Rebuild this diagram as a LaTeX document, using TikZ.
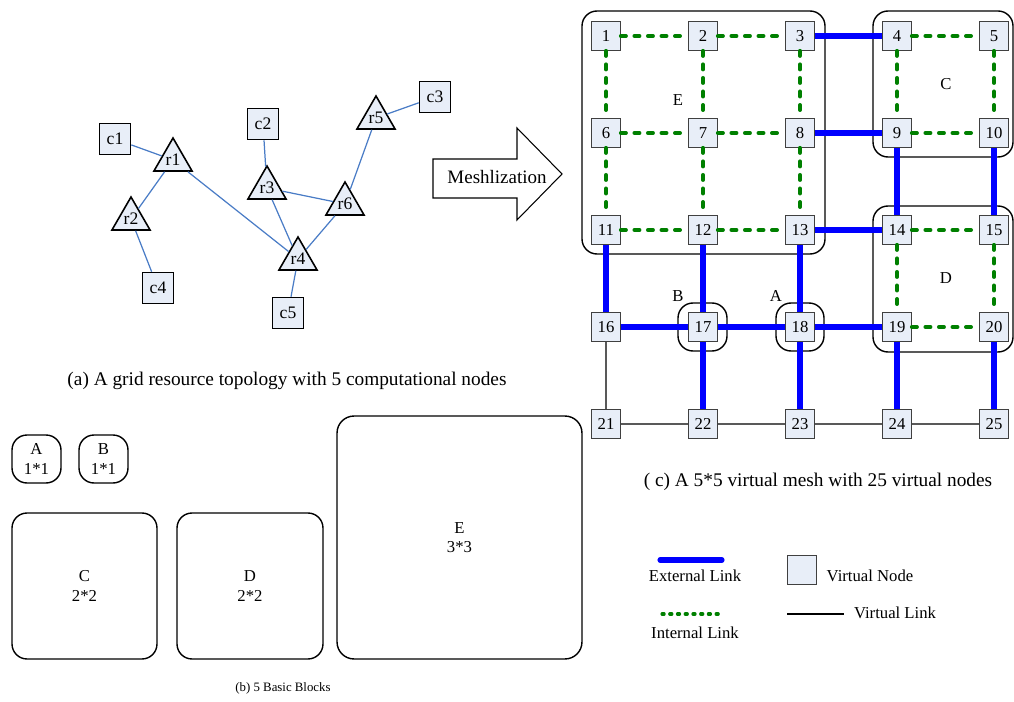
\documentclass[tikz,border=0pt]{standalone}
\usepackage{fontspec}
\setmainfont{Liberation Serif}
\usetikzlibrary{shapes.geometric}
\definecolor{nodefill}{HTML}{E8EEF8}
\definecolor{topoblue}{HTML}{4A7CC6}
\definecolor{intgreen}{HTML}{008000}
\begin{document}
\begin{tikzpicture}[x=0.02cm,y=-0.02cm,
    font=\fontsize{9.5}{11}\selectfont,
    vnode/.style={draw=black!75,fill=nodefill,minimum size=0.58cm,inner sep=0pt},
    cnode/.style={draw,line width=0.9pt,fill=nodefill,minimum size=0.62cm,inner sep=0pt,
      font=\fontsize{10}{12}\selectfont},
    rnode/.style={draw,line width=0.9pt,fill=nodefill,regular polygon,regular polygon sides=3,
      minimum size=0.88cm,inner sep=0pt,font=\fontsize{10}{12}\selectfont},
    topo/.style={draw=topoblue,line width=0.7pt},
    extlink/.style={draw=blue,line width=2.9pt},
    intlink/.style={draw=intgreen,line width=2.2pt,line cap=round,dash pattern=on 2.9pt off 4.8pt},
    vlink/.style={draw=black!65,line width=0.6pt},
    blk/.style={draw,line width=0.8pt,rounded corners=0.3cm},
    bblock/.style={blk,align=center,inner sep=0pt},
    caption/.style={font=\fontsize{11}{13}\selectfont}]
    \useasboundingbox (0,0) rectangle (1014,702);
    % (a) topology
    \node[cnode] (c1) at (115,139) {c1};
    \node[cnode] (c2) at (263,124) {c2};
    \node[cnode] (c3) at (435,97) {c3};
    \node[cnode] (c4) at (158,288) {c4};
    \node[cnode] (c5) at (288,313) {c5};
    \node[rnode] (r1) at (173,160) {r1};
    \node[rnode] (r2) at (131,219) {r2};
    \node[rnode] (r3) at (267,188) {r3};
    \node[rnode] (r4) at (298,259) {r4};
    \node[rnode] (r5) at (376,118) {r5};
    \node[rnode] (r6) at (345,204) {r6};
    \foreach \a/\b in {c1/r1,r1/r2,r1/r4,r2/c4,c2/r3,r3/r6,r3/r4,r4/r6,r4/c5,r6/r5,r5/c3}
    \draw[topo] (\a) -- (\b);
    \node[caption] (capa) at (287,381) {(a) A grid resource topology with 5 computational nodes};
    % arrow
    \draw[line width=0.6pt] (433,159) -- (517,159) -- (517,128) -- (562,174)
      -- (517,220) -- (517,198) -- (433,198) -- cycle;
    \node[font=\fontsize{10.8}{12}\selectfont] (mesh) at (497,177) {Meshlization};
    % (c) mesh blocks
    \draw[blk] (582,11) rectangle (825,254);
    \draw[blk] (873,11) rectangle (1013,157);
    \draw[blk] (873,206) rectangle (1013,352);
    \draw[blk] (678,303) rectangle (727,351);
    \draw[blk] (776,303) rectangle (824,351);
    \node (lblE) at (678,100) {E};
    \node (lblC) at (946,84) {C};
    \node (lblD) at (946,278) {D};
    \node (lblB) at (678,296) {B};
    \node (lblA) at (776,296) {A};
    % virtual nodes
    \foreach \r in {0,...,4}
    \foreach \c in {0,...,4}
    {
      \pgfmathtruncatemacro\k{5*\r+\c+1}
      \node[vnode] (v\k) at ({606+97*\c},{36+97*\r}) {\k};
    }
    \foreach \a/\b in {16/21,21/22,22/23,23/24,24/25}
    \draw[vlink] (v\a) -- (v\b);
    \foreach \a/\b in {3/4,8/9,13/14,16/17,17/18,18/19,9/14,10/15,11/16,12/17,13/18,17/22,18/23,19/24,20/25}
    \draw[extlink] (v\a) -- (v\b);
    \foreach \a/\b in {1/2,2/3,6/7,7/8,11/12,12/13,1/6,6/11,2/7,7/12,3/8,8/13,4/5,9/10,4/9,5/10,14/15,19/20,14/19,15/20}
    \draw[intlink] (v\a) -- (v\b);
    \node[caption] (capc) at (818,482) {( c) A 5*5 virtual mesh with 25 virtual nodes};
    % legend
    \coordinate (extA) at (660,560);
    \coordinate (extB) at (722,560);
    \draw[extlink,line cap=round] (extA) -- (extB);
    \node (extL) at (695,576) {External Link};
    \coordinate (intA) at (662,614);
    \coordinate (intB) at (719,614);
    \draw[intgreen,line width=1.8pt,line cap=round,dash pattern=on 1.2pt off 3.2pt] (intA) -- (intB);
    \node (intL) at (695,633) {Internal Link};
    \node[vnode] (vleg) at (802,570) {};
    \node (vlegL) at (870,576) {Virtual Node};
    \coordinate (vlA) at (787,614);
    \coordinate (vlB) at (844,614);
    \draw[line width=0.6pt] (vlA) -- (vlB);
    \node (vlL) at (895,613) {Virtual Link};
    % (b) basic blocks
    \node[bblock,minimum width=0.98cm,minimum height=0.96cm] (bA) at (36.5,459) {A\\1*1};
    \node[bblock,minimum width=0.98cm,minimum height=0.96cm] (bB) at (103.5,459) {B\\1*1};
    \node[bblock,minimum width=2.9cm,minimum height=2.92cm] (bC) at (84.5,586) {C\\2*2};
    \node[bblock,minimum width=2.92cm,minimum height=2.92cm] (bD) at (250,586) {D\\2*2};
    \node[bblock,minimum width=4.9cm,minimum height=4.86cm,rounded corners=0.34cm] (bE) at (459.5,537.5) {E\\3*3};
    \node[font=\fontsize{7.3}{9}\selectfont] (capb) at (283,688) {(b) 5 Basic Blocks};
  \end{tikzpicture}
\end{document}
